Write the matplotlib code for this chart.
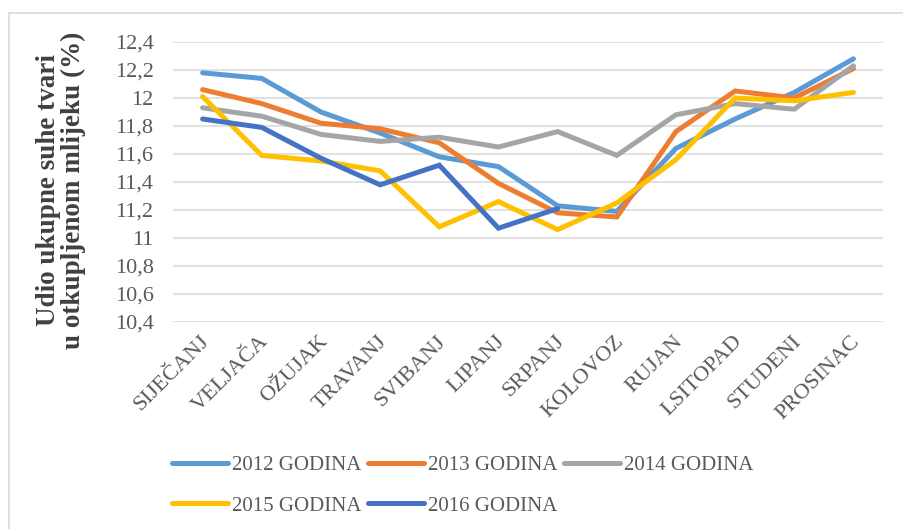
import numpy as np
import matplotlib
matplotlib.use('Agg')
import matplotlib.pyplot as plt
import matplotlib.transforms as mtransforms
from matplotlib.ticker import FuncFormatter

##########################################################
#                         Data                           #
##########################################################

months = ['SIJEČANJ', 'VELJAČA', 'OŽUJAK', 'TRAVANJ', 'SVIBANJ', 'LIPANJ',
          'SRPANJ', 'KOLOVOZ', 'RUJAN', 'LSITOPAD', 'STUDENI', 'PROSINAC']

y2012 = [12.18, 12.14, 11.90, 11.75, 11.58, 11.51, 11.23, 11.19, 11.64, 11.85, 12.04, 12.28]
y2013 = [12.06, 11.96, 11.82, 11.78, 11.68, 11.39, 11.18, 11.15, 11.76, 12.05, 12.00, 12.21]
y2014 = [11.93, 11.87, 11.74, 11.69, 11.72, 11.65, 11.76, 11.59, 11.88, 11.96, 11.92, 12.23]
y2015 = [12.01, 11.59, 11.55, 11.48, 11.08, 11.26, 11.06, 11.25, 11.56, 12.00, 11.98, 12.04]
y2016 = [11.85, 11.79, 11.57, 11.38, 11.52, 11.07, 11.21]

series_names = ['2012 GODINA', '2013 GODINA', '2014 GODINA', '2015 GODINA', '2016 GODINA']
series_colors = ['#5B9BD5', '#ED7D31', '#A5A5A5', '#FFC000', '#4472C4']

y_ticks = [10.4, 10.6, 10.8, 11.0, 11.2, 11.4, 11.6, 11.8, 12.0, 12.2, 12.4]

##########################################################
#                      Figure setup                      #
##########################################################

plt.rcParams['font.family'] = ['Liberation Serif', 'DejaVu Serif']
text_color = '#595959'

fig = plt.figure(figsize=(9.04, 5.29), dpi=100)
ax = fig.add_axes([0.1914, 0.3913, 0.7854, 0.5293])

# Light frame around the chart area
frame = plt.Rectangle((0.01, -0.05), 1.1, 1.025, transform=fig.transFigure,
                      fill=False, edgecolor='#D9D9D9', linewidth=1.2, clip_on=False)
fig.patches.append(frame)

##########################################################
#                       Plot lines                       #
##########################################################

x = np.arange(len(months))
all_series = [y2012, y2013, y2014, y2015, y2016]
handles = []
for values, name, color in zip(all_series, series_names, series_colors):
    line, = ax.plot(x[:len(values)], values, color=color, linewidth=3.6,
                    solid_capstyle='round', solid_joinstyle='miter', label=name)
    handles.append(line)

##########################################################
#                      Axes styling                      #
##########################################################

ax.set_xlim(-0.5, len(months) - 0.5)
ax.set_ylim(10.4, 12.4)
ax.set_yticks(y_ticks)
ax.yaxis.set_major_formatter(FuncFormatter(
    lambda v, pos: ('%.1f' % v).replace('.0', '').replace('.', ',')))
ax.grid(axis='y', color='#D9D9D9', linewidth=1.1)
ax.set_axisbelow(True)
for spine in ax.spines.values():
    spine.set_visible(False)

ax.tick_params(axis='y', length=0, pad=14, labelsize=16, labelcolor=text_color)
ax.tick_params(axis='x', length=0, pad=12, labelsize=16, labelcolor=text_color)
ax.set_xticks(x)
ax.set_xticklabels(months, rotation=45, ha='right', va='center', rotation_mode='anchor')

# nudge month labels a few pixels to the right
shift = mtransforms.ScaledTranslation(4 / 100, 0, fig.dpi_scale_trans)
for label in ax.get_xticklabels():
    label.set_transform(label.get_transform() + shift)

# Two line axis title on the left
fig.text(61 / 904, 1 - 190 / 529, 'Udio ukupne suhe tvari\nu otkupljenom mlijeku (%)',
         rotation=90, ha='center', va='center', fontsize=19.5, fontweight='bold',
         color='#404040', linespacing=1.0)

##########################################################
#                         Legend                         #
##########################################################

# Reorder so the legend fills row by row (3 on top, 2 below)
order = [0, 3, 1, 4, 2]
fig.legend([handles[i] for i in order], [series_names[i] for i in order],
           loc='center', bbox_to_anchor=(0.512, 0.082), ncol=3, frameon=False,
           fontsize=15, handlelength=2.7, handletextpad=0.2, columnspacing=0.3,
           labelspacing=1.0, borderpad=0, labelcolor=text_color)

plt.savefig('out.png', dpi=100)
